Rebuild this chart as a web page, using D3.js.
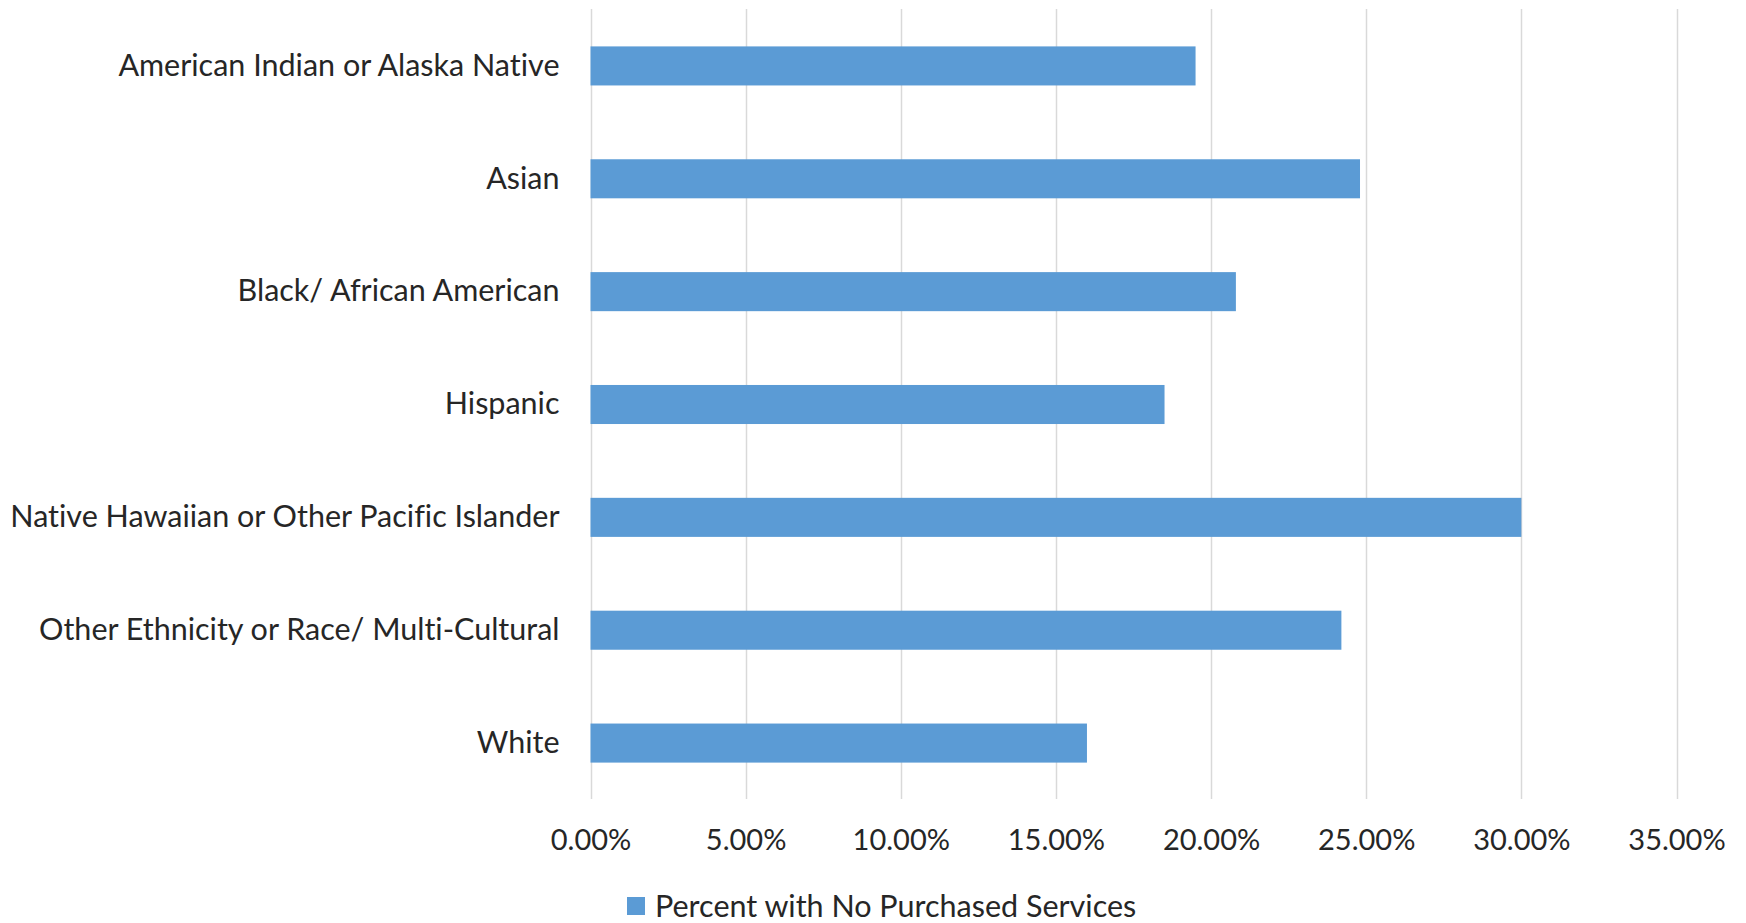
<!DOCTYPE html>
<html>
<head>
<meta charset="utf-8">
<script src="https://cdn.jsdelivr.net/npm/d3@7"></script>
<style>
  html, body { margin: 0; padding: 0; background: #ffffff; }
  svg { display: block; }
  text { font-family: Lato, "Open Sans", sans-serif; fill: #262626; font-variant-ligatures: none; }
</style>
</head>
<body>
<svg id="chart" width="1746" height="923"></svg>
<script>
// Share of people with no purchased services, by ethnicity / race
const categories = [
  "American Indian or Alaska Native",
  "Asian",
  "Black/ African American",
  "Hispanic",
  "Native Hawaiian or Other Pacific Islander",
  "Other Ethnicity or Race/ Multi-Cultural",
  "White"
];
const values = [0.195, 0.248, 0.208, 0.185, 0.300, 0.242, 0.160];
const tickValues = [0, 0.05, 0.10, 0.15, 0.20, 0.25, 0.30, 0.35];
const seriesName = "Percent with No Purchased Services";

const barColor = "#5b9bd5";
const gridColor = "#d9d9d9";

const svg = d3.select("#chart");

const x = d3.scaleLinear().domain([0, 0.35]).range([590.5, 1676.5]);
const y = d3.scaleBand()
  .domain(categories)
  .range([9.5, 799.5])
  .paddingInner(0.654)
  .paddingOuter(0.327);

// vertical gridlines
svg.append("g")
  .selectAll("line")
  .data(tickValues)
  .join("line")
  .attr("x1", d => Math.round(x(d)) + 0.5)
  .attr("x2", d => Math.round(x(d)) + 0.5)
  .attr("y1", 9)
  .attr("y2", 799)
  .attr("stroke", gridColor)
  .attr("stroke-width", 1.5);

// bars
svg.append("g")
  .selectAll("rect")
  .data(categories.map((c, i) => ({ c, v: values[i] })))
  .join("rect")
  .attr("x", x(0))
  .attr("y", d => y(d.c))
  .attr("width", d => x(d.v) - x(0))
  .attr("height", y.bandwidth())
  .attr("fill", barColor);

// category axis (labels only)
const yAxis = svg.append("g")
  .attr("transform", `translate(${x(0)},0)`)
  .call(d3.axisLeft(y).tickSize(0).tickPadding(31));
yAxis.select(".domain").remove();
yAxis.selectAll("text")
  .attr("font-size", 30.5)
  .attr("fill", "#262626")
  .style("font-family", "Lato, 'Open Sans', sans-serif");

// value axis (labels only)
const xAxis = svg.append("g")
  .attr("transform", "translate(0,799)")
  .call(d3.axisBottom(x).tickValues(tickValues).tickFormat(d3.format(".2%")).tickSize(0).tickPadding(30));
xAxis.select(".domain").remove();
xAxis.selectAll("text")
  .attr("font-size", 29)
  .attr("fill", "#262626")
  .style("font-family", "Lato, 'Open Sans', sans-serif");

// legend
const legend = svg.append("g").attr("transform", "translate(627,906)");
legend.append("rect")
  .attr("x", 0).attr("y", -9)
  .attr("width", 18).attr("height", 18)
  .attr("fill", barColor);
legend.append("text")
  .attr("x", 28).attr("y", 0)
  .attr("dy", "0.35em")
  .attr("font-size", 30.5)
  .text(seriesName);
</script>
</body>
</html>
